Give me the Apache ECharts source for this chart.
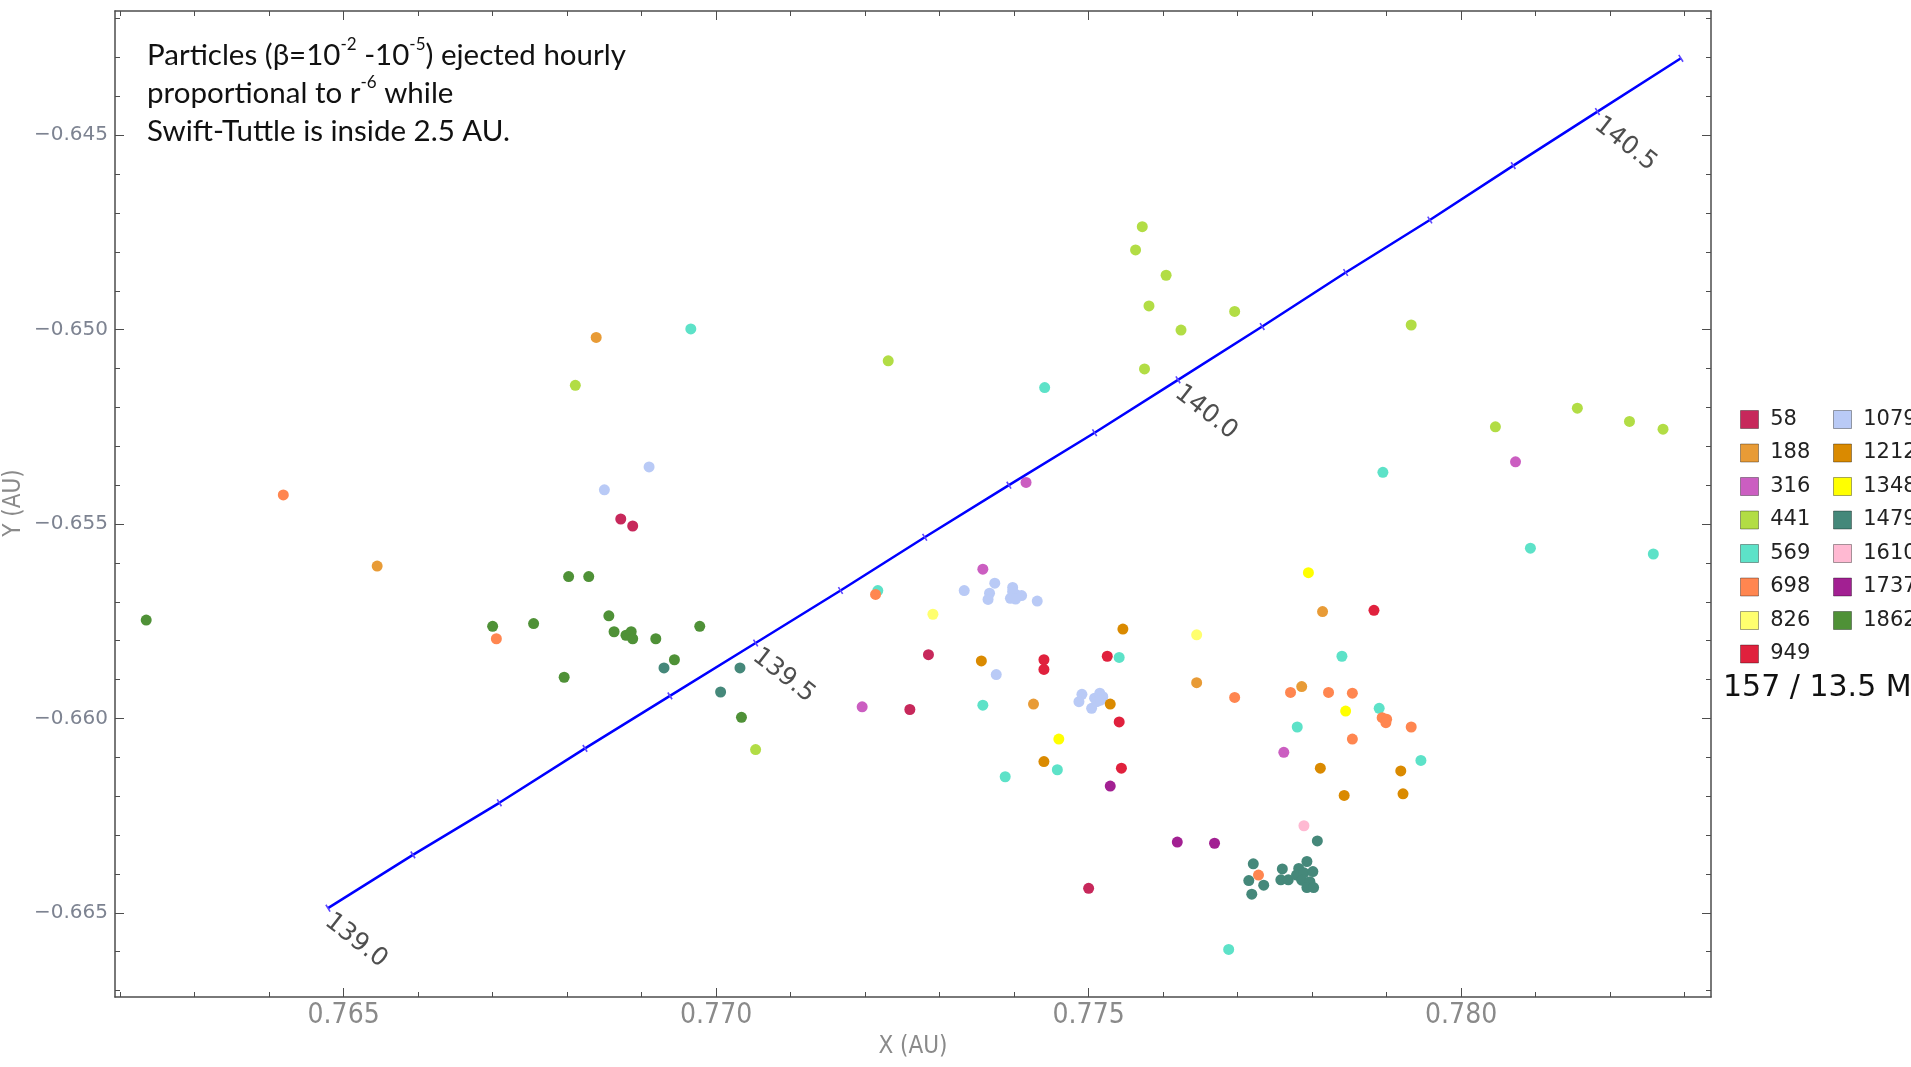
<!DOCTYPE html>
<html>
<head>
<meta charset="utf-8">
<title>Swift-Tuttle particles</title>
<script src="https://cdn.jsdelivr.net/npm/echarts@6/dist/echarts.min.js"></script>
<style>
  html, body { margin: 0; padding: 0; background: #fff; }
  #chart { width: 1911px; height: 1067px; }
</style>
</head>
<body>
<div id="chart"></div>
<script>
// axis ranges (AU)
const xRange = [0.761931, 0.783354];
const yRange = [-0.667165, -0.641803];
const xMajor = [0.765, 0.770, 0.775, 0.780];
const xMinor = [0.762, 0.763, 0.764, 0.766, 0.767, 0.768, 0.769, 0.771, 0.772, 0.773, 0.774,
  0.776, 0.777, 0.778, 0.779, 0.781, 0.782, 0.783];
const yMajor = [-0.665, -0.660, -0.655, -0.650, -0.645];
const yMinor = [-0.667, -0.666, -0.664, -0.663, -0.662, -0.661, -0.659, -0.658, -0.657, -0.656,
  -0.654, -0.653, -0.652, -0.651, -0.649, -0.648, -0.647, -0.646, -0.644, -0.643, -0.642];

// ejection groups (legend) and their colours
const groupNames = ['58', '188', '316', '441', '569', '698', '826', '949',
  '1079', '1212', '1348', '1479', '1610', '1737', '1862'];
const groupColors = ['#C7285B', '#E89B36', '#CB5EC1', '#B2DD45', '#5DE2C8', '#FF8650', '#FFFF6E', '#E0213D',
  '#B9CAF6', '#DA8A00', '#FFFF00', '#45887A', '#FFB9D2', '#A22092', '#4F9137'];

// particle positions [x, y] in AU
const p58 = [[0.76872, -0.65487], [0.76888, -0.65505], [0.77285, -0.65836], [0.77260, -0.65977], [0.77500, -0.66437]];
const p188 = [[0.76545, -0.65608], [0.76839, -0.65020], [0.77426, -0.65963], [0.77645, -0.65908], [0.77814, -0.65725], [0.77786, -0.65918]];
const p316 = [[0.77358, -0.65616], [0.77416, -0.65393], [0.77196, -0.65970], [0.77762, -0.66087], [0.78073, -0.65340]];
const p441 = [[0.77053, -0.66080], [0.76811, -0.65143], [0.77231, -0.65080], [0.77572, -0.64735], [0.77563, -0.64795],
  [0.77604, -0.64860], [0.77581, -0.64939], [0.77696, -0.64953], [0.77624, -0.65001], [0.77575, -0.65101],
  [0.77933, -0.64988], [0.78046, -0.65250], [0.78156, -0.65202], [0.78226, -0.65236], [0.78271, -0.65256]];
const p569 = [[0.76966, -0.64998], [0.77441, -0.65149], [0.77895, -0.65367], [0.78093, -0.65562], [0.78258, -0.65577],
  [0.77217, -0.65671], [0.77358, -0.65966], [0.77541, -0.65843], [0.77458, -0.66132], [0.77388, -0.66150],
  [0.77840, -0.65840], [0.77890, -0.65974], [0.77780, -0.66022], [0.77946, -0.66108], [0.77688, -0.66594]];
const p698 = [[0.76419, -0.65425], [0.76705, -0.65795], [0.77214, -0.65681], [0.77696, -0.65946], [0.77771, -0.65933],
  [0.77822, -0.65933], [0.77854, -0.65935], [0.77894, -0.65998], [0.77900, -0.66002], [0.77899, -0.66011],
  [0.77933, -0.66022], [0.77854, -0.66053], [0.77728, -0.66403]];
const p826 = [[0.77291, -0.65732], [0.77645, -0.65785]];
const p949 = [[0.77440, -0.65849], [0.77440, -0.65874], [0.77525, -0.65840], [0.77541, -0.66009], [0.77544, -0.66128], [0.77883, -0.65722]];
const p1079 = [[0.76850, -0.65412], [0.76910, -0.65353], [0.77374, -0.65652], [0.77333, -0.65671], [0.77367, -0.65678],
  [0.77365, -0.65694], [0.77398, -0.65663], [0.77398, -0.65674], [0.77403, -0.65682], [0.77410, -0.65684],
  [0.77395, -0.65691], [0.77402, -0.65693], [0.77431, -0.65698], [0.77376, -0.65887], [0.77491, -0.65938],
  [0.77487, -0.65957], [0.77504, -0.65974], [0.77508, -0.65948], [0.77515, -0.65935], [0.77519, -0.65944],
  [0.77511, -0.65957], [0.77516, -0.65953]];
const p1212 = [[0.77356, -0.65852], [0.77546, -0.65770], [0.77529, -0.65963], [0.77440, -0.66111], [0.77811, -0.66128],
  [0.77919, -0.66135], [0.77843, -0.66198], [0.77922, -0.66194]];
const p1348 = [[0.77795, -0.65625], [0.77460, -0.66053], [0.77845, -0.65981]];
const p1479 = [[0.76930, -0.65870], [0.77032, -0.65870], [0.77006, -0.65932], [0.77807, -0.66315], [0.77721, -0.66374],
  [0.77715, -0.66417], [0.77735, -0.66429], [0.77719, -0.66452], [0.77760, -0.66387], [0.77758, -0.66415],
  [0.77768, -0.66415], [0.77793, -0.66368], [0.77782, -0.66386], [0.77779, -0.66403], [0.77789, -0.66397],
  [0.77801, -0.66394], [0.77786, -0.66416], [0.77797, -0.66420], [0.77793, -0.66435], [0.77802, -0.66435]];
const p1610 = [[0.77789, -0.66276]];
const p1737 = [[0.77529, -0.66174], [0.77619, -0.66318], [0.77669, -0.66321]];
const p1862 = [[0.76235, -0.65747], [0.76700, -0.65763], [0.76755, -0.65756], [0.76802, -0.65635], [0.76829, -0.65635],
  [0.76856, -0.65736], [0.76863, -0.65777], [0.76879, -0.65786], [0.76886, -0.65777], [0.76888, -0.65795],
  [0.76919, -0.65795], [0.76978, -0.65763], [0.76944, -0.65849], [0.76796, -0.65894], [0.77034, -0.65997]];

const groupPoints = [p58, p188, p316, p441, p569, p698, p826, p949, p1079, p1212, p1348, p1479, p1610, p1737, p1862];

// comet track with time marks
const trackTimes = [139.0, 139.1, 139.2, 139.3, 139.4, 139.5, 139.6, 139.7, 139.8, 139.9,
  140.0, 140.1, 140.2, 140.3, 140.4, 140.5, 140.6];
const trackX = [0.76479, 0.76593, 0.76709, 0.76824, 0.76938, 0.77053, 0.77167, 0.77280, 0.77393, 0.77508,
  0.77620, 0.77733, 0.77845, 0.77958, 0.78070, 0.78183, 0.78295];
const trackY = [-0.66488, -0.66351, -0.66217, -0.66077, -0.65942, -0.65806, -0.65671, -0.65534, -0.65400, -0.65265,
  -0.65129, -0.64992, -0.64853, -0.64718, -0.64578, -0.64439, -0.64302];
const trackLabels = ['139.0', '139.5', '140.0', '140.5'];

const chart = echarts.init(document.getElementById('chart'));

const frameColor = '#4d4d4d';
const nameFont = 'Liberation Sans Narrow, DejaVu Sans Condensed, sans-serif';
const fmtX = v => v.toFixed(3);
const fmtY = v => (v < 0 ? '\u2212' : '') + Math.abs(v).toFixed(3);

function makeAxis(type, position, ticks, tickLen, withLine, withLabel) {
  const isX = type === 'x';
  return {
    type: 'value',
    position: position,
    min: isX ? xRange[0] : yRange[0],
    max: isX ? xRange[1] : yRange[1],
    splitNumber: isX ? 4 : 5,
    splitLine: { show: false },
    axisLine: { show: withLine, onZero: false, lineStyle: { color: frameColor, width: 1.5 } },
    axisTick: { show: true, inside: true, length: tickLen, customValues: ticks, lineStyle: { color: frameColor, width: 1 } },
    axisLabel: withLabel ? {
      show: true,
      customValues: ticks,
      formatter: isX ? fmtX : fmtY,
      color: isX ? '#8a8a8a' : '#7d8391',
      fontFamily: isX ? nameFont : 'DejaVu Sans',
      fontSize: isX ? 28 : 20,
      margin: isX ? 5 : 7
    } : { show: false },
    // y name is drawn as a graphic text (see below)
    name: withLabel && isX ? 'X (AU)' : '',
    nameLocation: 'middle',
    nameGap: 38,
    nameTextStyle: { color: '#8a8a8a', fontFamily: nameFont, fontSize: 24 }
  };
}

const series = groupNames.map((name, i) => ({
  name: name,
  type: 'scatter',
  data: groupPoints[i],
  symbolSize: 11,
  itemStyle: { color: groupColors[i], opacity: 1 },
  z: 2
}));

series.push({
  name: 'track',
  type: 'line',
  data: trackX.map((x, i) => [x, trackY[i], trackTimes[i]]),
  lineStyle: { color: '#0000ff', width: 2.5 },
  symbol: 'rect',
  symbolSize: [1.6, 8],
  symbolRotate: 32,
  showSymbol: true,
  showAllSymbol: true,
  itemStyle: { color: '#5b45ff' },
  silent: true,
  z: 4
});

series.push({
  name: 'trackLabels',
  type: 'scatter',
  data: trackX.map((x, i) => [x, trackY[i], trackTimes[i].toFixed(1)])
    .filter(d => trackLabels.indexOf(d[2]) >= 0),
  symbolSize: 1,
  itemStyle: { color: 'rgba(0,0,0,0)' },
  silent: true,
  z: 5,
  label: {
    show: true,
    position: [0, 0],
    offset: [7, -4],
    align: 'left',
    verticalAlign: 'top',
    rotate: -38,
    formatter: p => p.value[2],
    fontFamily: 'DejaVu Sans',
    fontSize: 25,
    color: '#222'
  }
});

const legendBase = {
  orient: 'vertical',
  top: 404,
  itemWidth: 18,
  itemHeight: 18,
  itemGap: 12.5,
  icon: 'rect',
  formatter: n => ' ' + n,
  itemStyle: { borderColor: 'rgba(0,0,0,0.35)', borderWidth: 1 },
  textStyle: { fontFamily: 'DejaVu Sans', fontSize: 21, color: '#222', lineHeight: 18 }
};

chart.setOption({
  animation: false,
  backgroundColor: '#fff',
  grid: { left: 115, right: 200, top: 11, bottom: 70, containLabel: false, outerBoundsMode: 'none' },
  xAxis: [
    makeAxis('x', 'bottom', xMajor, 9, true, true),
    makeAxis('x', 'bottom', xMinor, 5, false, false),
    makeAxis('x', 'top', xMajor, 9, true, false),
    makeAxis('x', 'top', xMinor, 5, false, false)
  ],
  yAxis: [
    makeAxis('y', 'left', yMajor, 9, true, true),
    makeAxis('y', 'left', yMinor, 5, false, false),
    makeAxis('y', 'right', yMajor, 9, true, false),
    makeAxis('y', 'right', yMinor, 5, false, false)
  ],
  legend: [
    Object.assign({}, legendBase, { left: 1735, data: groupNames.slice(0, 8) }),
    Object.assign({}, legendBase, { left: 1828, data: groupNames.slice(8) })
  ],
  graphic: [
    {
      type: 'text',
      x: 14,
      y: 503,
      rotation: Math.PI / 2,
      style: {
        text: 'Y (AU)',
        align: 'center',
        verticalAlign: 'middle',
        fontFamily: nameFont,
        fontSize: 24,
        fill: '#8a8a8a'
      }
    },
    {
      type: 'text',
      left: 147,
      top: 36,
      style: {
        text: 'Particles (\u03B2=10{sup|-2} -10{sup|-5}) ejected hourly\nproportional to r{sup|-6} while\nSwift-Tuttle is inside 2.5 AU.',
        fontFamily: 'Lato',
        fontSize: 29.5,
        lineHeight: 38,
        fill: '#111',
        rich: {
          sup: { fontFamily: 'Lato', fontSize: 17, lineHeight: 22, verticalAlign: 'top', fill: '#111' }
        }
      }
    },
    {
      type: 'text',
      left: 1723,
      top: 673,
      style: {
        text: '157 / 13.5 M',
        fontFamily: 'DejaVu Sans',
        fontSize: 30,
        fill: '#111'
      }
    }
  ],
  series: series
});
</script>
</body>
</html>
